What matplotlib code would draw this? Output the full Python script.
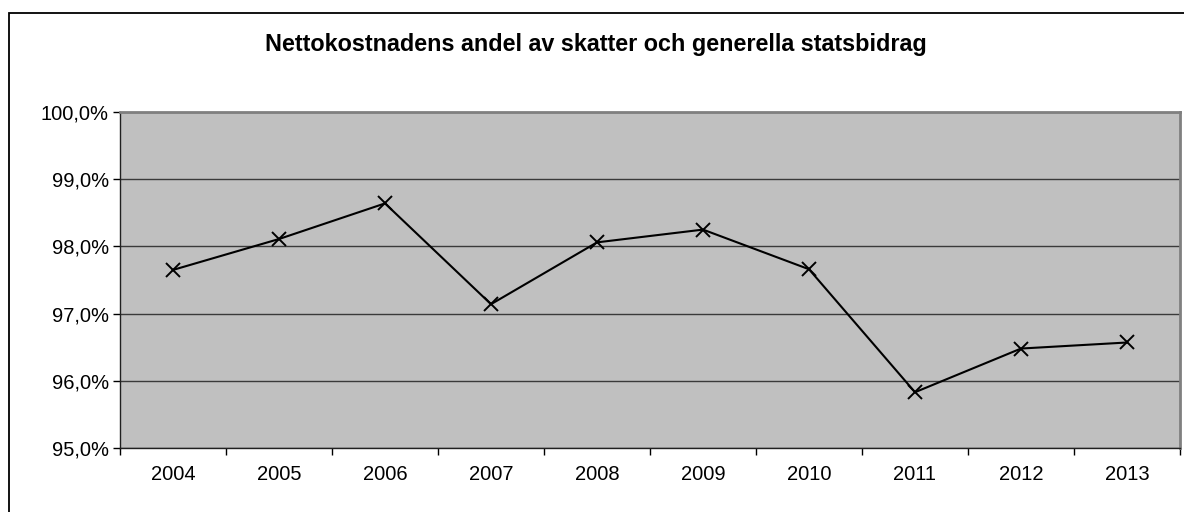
import matplotlib.pyplot as plt
from matplotlib.patches import Rectangle
from matplotlib.ticker import FixedLocator, FuncFormatter

years = ["2004", "2005", "2006", "2007", "2008", "2009", "2010", "2011", "2012", "2013"]
andel = [97.65, 98.11, 98.64, 97.14, 98.06, 98.25, 97.66, 95.83, 96.48, 96.57]
y_ticks = [95, 96, 97, 98, 99, 100]
title = "Nettokostnadens andel av skatter och generella statsbidrag"


def main() -> None:
    plt.rcParams['font.family'] = ['Liberation Sans', 'DejaVu Sans']
    W, H = 1184, 512
    fig = plt.figure(figsize=(W / 100, H / 100), dpi=100)

    # outer chart border (right and bottom edges fall outside the picture)
    fig.patches.append(Rectangle((9 / W, 0 - 0.05), 1.1, 1 - 13 / H + 0.05,
                                 transform=fig.transFigure, fill=False,
                                 edgecolor='black', lw=1.3))

    ax = fig.add_axes([120 / W, 1 - 448 / H, 1060 / W, 336 / H])
    ax.set_facecolor('#c0c0c0')

    x = range(len(years))
    ax.plot(x, andel, color='black', lw=1.5, marker='x', ms=10, mew=1.4, zorder=3)

    ax.set_xlim(-0.5, len(years) - 0.5)
    ax.set_ylim(95, 100)
    ax.set_yticks(y_ticks)
    ax.yaxis.set_major_formatter(FuncFormatter(lambda v, p: f"{v:.1f}%".replace('.', ',')))
    ax.grid(axis='y', color='#3a3a3a', lw=1)

    ax.set_xticks(list(x))
    ax.set_xticklabels(years)
    ax.xaxis.set_minor_locator(FixedLocator([i - 0.5 for i in range(len(years) + 1)]))
    ax.tick_params(axis='x', which='major', length=0, pad=12, labelsize=14.5)
    ax.tick_params(axis='x', which='minor', length=5, width=1, color='black')
    ax.tick_params(axis='y', length=5, width=1, labelsize=14.5, pad=3)

    for s in ['top', 'right']:
        ax.spines[s].set_color('#808080')
        ax.spines[s].set_linewidth(2)
    for s in ['left', 'bottom']:
        ax.spines[s].set_color('#202020')
        ax.spines[s].set_linewidth(1)

    fig.text(596 / W, 1 - 45 / H, title, ha='center', va='center',
             fontsize=16.8, fontweight='bold')

    fig.savefig("out.png", dpi=100)


if __name__ == '__main__':
    main()
